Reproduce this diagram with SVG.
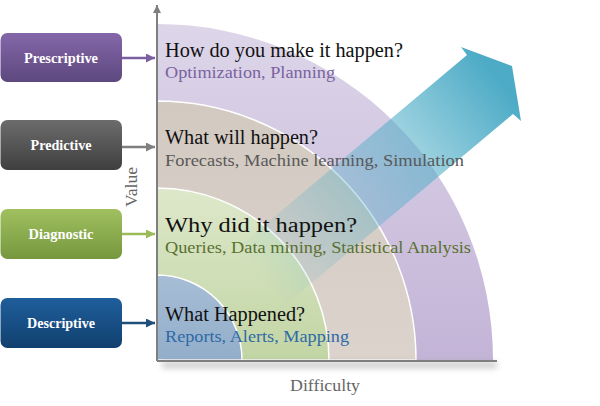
<svg xmlns="http://www.w3.org/2000/svg" width="600" height="406" viewBox="0 0 600 406">
<defs>
<style>
.lbl{font-family:"Liberation Serif","DejaVu Serif",serif;font-weight:bold;font-size:15px;fill:#ffffff;text-anchor:middle}
.q{font-family:"Liberation Serif","DejaVu Serif",serif;font-size:20px;fill:#111111}
.s{font-family:"Liberation Serif","DejaVu Serif",serif;font-size:17.5px}
.ax{font-family:"Liberation Serif","DejaVu Serif",serif;font-size:17px;fill:#666666}
.ring{stroke:#ffffff;stroke-width:1.5}
</style>
<linearGradient id="gPre" x1="0" y1="0" x2="0" y2="1"><stop offset="0" stop-color="#8467a9"/><stop offset="1" stop-color="#5d487e"/></linearGradient>
<linearGradient id="gPrd" x1="0" y1="0" x2="0" y2="1"><stop offset="0" stop-color="#6c6c6c"/><stop offset="1" stop-color="#3f3f3f"/></linearGradient>
<linearGradient id="gDia" x1="0" y1="0" x2="0" y2="1"><stop offset="0" stop-color="#a0c060"/><stop offset="1" stop-color="#76973d"/></linearGradient>
<linearGradient id="gDes" x1="0" y1="0" x2="0" y2="1"><stop offset="0" stop-color="#1f5e9b"/><stop offset="1" stop-color="#11406f"/></linearGradient>
<linearGradient id="rPur" gradientUnits="userSpaceOnUse" x1="0" y1="24" x2="0" y2="360"><stop offset="0" stop-color="#ddd6e9"/><stop offset="1" stop-color="#c3b4d7"/></linearGradient>
<linearGradient id="rBei" gradientUnits="userSpaceOnUse" x1="0" y1="100" x2="0" y2="360"><stop offset="0" stop-color="#d2c9c1"/><stop offset="1" stop-color="#dbd3cc"/></linearGradient>
<linearGradient id="rGrn" gradientUnits="userSpaceOnUse" x1="0" y1="188" x2="0" y2="360"><stop offset="0" stop-color="#dde8ca"/><stop offset="1" stop-color="#c2d5a4"/></linearGradient>
<linearGradient id="rBlu" gradientUnits="userSpaceOnUse" x1="0" y1="275" x2="0" y2="360"><stop offset="0" stop-color="#a6bdd5"/><stop offset="1" stop-color="#93aeca"/></linearGradient>
<linearGradient id="gArr" gradientUnits="userSpaceOnUse" x1="262" y1="282" x2="505" y2="88"><stop offset="0" stop-color="#4bacc6" stop-opacity="0"/><stop offset="0.35" stop-color="#4bacc6" stop-opacity="0.3"/><stop offset="0.65" stop-color="#4bacc6" stop-opacity="0.55"/><stop offset="1" stop-color="#4aa9c5" stop-opacity="0.98"/></linearGradient>
<filter id="blur" x="-10%" y="-200%" width="120%" height="500%"><feGaussianBlur stdDeviation="3"/></filter>
<marker id="mPre" viewBox="0 0 10 10" refX="10" refY="5" markerWidth="9" markerHeight="9" markerUnits="userSpaceOnUse" orient="auto"><path d="M0,0 L10,5 L0,10 Z" fill="#7b5fa0"/></marker>
<marker id="mPrd" viewBox="0 0 10 10" refX="10" refY="5" markerWidth="9" markerHeight="9" markerUnits="userSpaceOnUse" orient="auto"><path d="M0,0 L10,5 L0,10 Z" fill="#7f7f7f"/></marker>
<marker id="mDia" viewBox="0 0 10 10" refX="10" refY="5" markerWidth="9" markerHeight="9" markerUnits="userSpaceOnUse" orient="auto"><path d="M0,0 L10,5 L0,10 Z" fill="#9bbb59"/></marker>
<marker id="mDes" viewBox="0 0 10 10" refX="10" refY="5" markerWidth="9" markerHeight="9" markerUnits="userSpaceOnUse" orient="auto"><path d="M0,0 L10,5 L0,10 Z" fill="#1f4e79"/></marker>
<marker id="mAx" viewBox="0 0 10 10" refX="10" refY="5" markerWidth="8" markerHeight="8" markerUnits="userSpaceOnUse" orient="auto"><path d="M0,0 L10,5 L0,10 Z" fill="#7f7f7f"/></marker>
</defs>
<rect width="600" height="406" fill="#ffffff"/>

<g id="rings">
<path d="M157,360 L157,24 A336,336 0 0 1 493,360 Z" fill="url(#rPur)"/>
<path class="ring" d="M157,360 L157,101 A259,259 0 0 1 416,360 Z" fill="url(#rBei)"/>
<path class="ring" d="M157,360 L157,188 A172,172 0 0 1 329,360 Z" fill="url(#rGrn)"/>
<path class="ring" d="M157,360 L157,275 A85,85 0 0 1 242,360 Z" fill="url(#rBlu)"/>
</g>

<g id="growth-arrow">
<path d="M237,248 L467,55 L461,47 L512,66 L521,121 L513,114 L283,307 Z" fill="url(#gArr)"/>
</g>

<g id="axes">
<rect x="162" y="362" width="335" height="6" fill="#9a9a9a" opacity="0.55" filter="url(#blur)"/>
<line x1="157" y1="361" x2="497" y2="361" stroke="#7f7f7f" stroke-width="2"/>
<line x1="157" y1="361" x2="157" y2="5" stroke="#7f7f7f" stroke-width="2" marker-end="url(#mAx)"/>
<text class="ax" x="325" y="391" text-anchor="middle" textLength="70" lengthAdjust="spacingAndGlyphs">Difficulty</text>
<text class="ax" transform="translate(137,187) rotate(-90)" text-anchor="middle" textLength="40" lengthAdjust="spacingAndGlyphs">Value</text>
</g>

<g id="connectors">
<line x1="122" y1="58" x2="155" y2="58" stroke="#7b5fa0" stroke-width="2.5" marker-end="url(#mPre)"/>
<line x1="122" y1="147" x2="155" y2="147" stroke="#7f7f7f" stroke-width="2.5" marker-end="url(#mPrd)"/>
<line x1="122" y1="234" x2="155" y2="234" stroke="#9bbb59" stroke-width="2.5" marker-end="url(#mDia)"/>
<line x1="122" y1="323" x2="155" y2="323" stroke="#1f4e79" stroke-width="2.5" marker-end="url(#mDes)"/>
</g>

<g id="prescriptive">
<rect x="0.5" y="33" width="121.5" height="49" rx="7" fill="url(#gPre)"/>
<text class="lbl" x="61" y="62.5" textLength="74" lengthAdjust="spacingAndGlyphs">Prescriptive</text>
</g>
<g id="predictive">
<rect x="0.5" y="120" width="121.5" height="50" rx="7" fill="url(#gPrd)"/>
<text class="lbl" x="61" y="150" textLength="61" lengthAdjust="spacingAndGlyphs">Predictive</text>
</g>
<g id="diagnostic">
<rect x="0.5" y="209" width="121.5" height="50" rx="7" fill="url(#gDia)"/>
<text class="lbl" x="61" y="239" textLength="65" lengthAdjust="spacingAndGlyphs">Diagnostic</text>
</g>
<g id="descriptive">
<rect x="0.5" y="298" width="121.5" height="50" rx="7" fill="url(#gDes)"/>
<text class="lbl" x="61" y="328" textLength="68" lengthAdjust="spacingAndGlyphs">Descriptive</text>
</g>

<g id="labels">
<text class="q" x="165" y="57" textLength="238" lengthAdjust="spacingAndGlyphs">How do you make it happen?</text>
<text class="s" x="165" y="78" fill="#7a62a0" textLength="170" lengthAdjust="spacingAndGlyphs">Optimization, Planning</text>
<text class="q" x="165" y="144" textLength="153" lengthAdjust="spacingAndGlyphs">What will happen?</text>
<text class="s" x="165" y="166" fill="#595959" textLength="299" lengthAdjust="spacingAndGlyphs">Forecasts, Machine learning,  Simulation</text>
<text class="q" x="165" y="232" textLength="192" lengthAdjust="spacingAndGlyphs">Why did it happen?</text>
<text class="s" x="165" y="253" fill="#5a7030" textLength="306" lengthAdjust="spacingAndGlyphs">Queries, Data mining,  Statistical Analysis</text>
<text class="q" x="165" y="321" textLength="140" lengthAdjust="spacingAndGlyphs">What Happened?</text>
<text class="s" x="165" y="342" fill="#2e6aa6" textLength="184" lengthAdjust="spacingAndGlyphs">Reports, Alerts, Mapping</text>
</g>
</svg>
